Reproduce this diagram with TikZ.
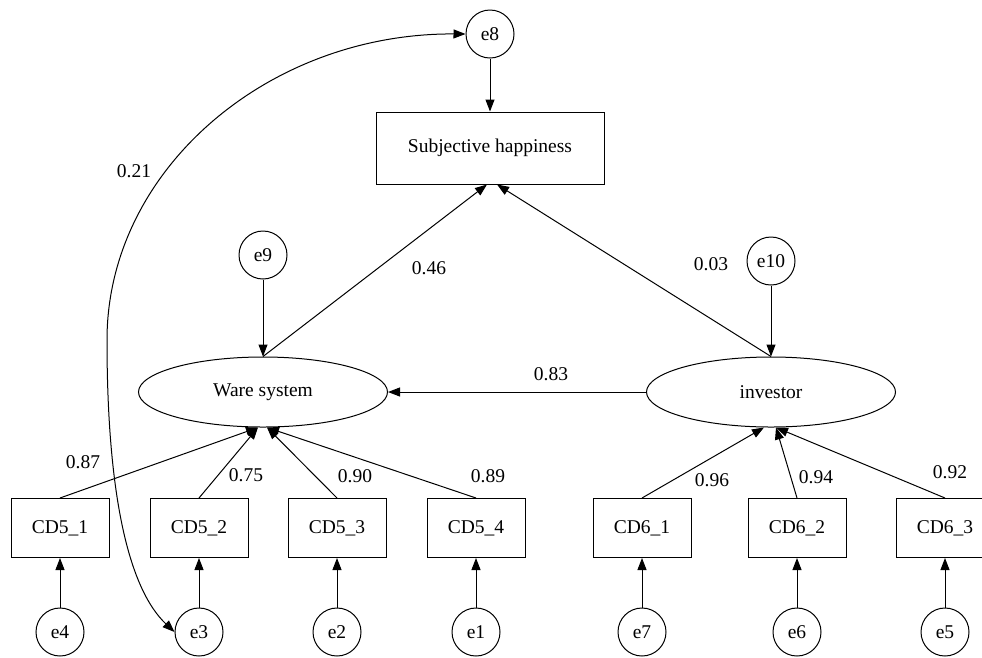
\documentclass[tikz,border=0pt]{standalone}
\usepackage{fontspec}
\setmainfont{Liberation Serif}
\newfontfamily\diagfont{Liberation Serif}
\usetikzlibrary{arrows.meta,shapes.geometric,calc}
\begin{document}
\begin{tikzpicture}[x=1pt,y=-1pt,
  every node/.style={font=\diagfont\fontsize{19.5}{22}\selectfont},
  errc/.style={circle,draw,line width=1pt,minimum size=48pt,inner sep=0pt},
  obs/.style={rectangle,draw,line width=1pt,minimum width=98pt,minimum height=59pt,inner sep=0pt},
  lat/.style={ellipse,draw,line width=1pt,minimum width=249pt,minimum height=70pt,inner sep=0pt},
  arr/.style={-{Triangle[length=12pt,width=9pt]},line width=1pt},
  darr/.style={{Triangle[length=12pt,width=9pt]}-{Triangle[length=12pt,width=9pt]},line width=1pt},
  lbl/.style={inner sep=0pt}]
\useasboundingbox (0,0) rectangle (982,657);

\node[obs,minimum width=228pt,minimum height=72pt] (sh) at (490,148) {Subjective happiness};
\node[errc] (e8) at (490,34) {e8};
\node[lat] (ws) at (263,392) {Ware system};
\node[lat] (inv) at (771,392) {investor};
\node[errc] (e9) at (263,255) {e9};
\node[errc] (e10) at (771,261) {e10};

\node[obs] (c51) at (60,528) {CD5\_1};
\node[obs] (c52) at (199,528) {CD5\_2};
\node[obs] (c53) at (337,528) {CD5\_3};
\node[obs] (c54) at (476,528) {CD5\_4};
\node[obs] (c61) at (642,528) {CD6\_1};
\node[obs] (c62) at (797,528) {CD6\_2};
\node[obs] (c63) at (945,528) {CD6\_3};

\node[errc] (e4) at (60,632) {e4};
\node[errc] (e3) at (199,632) {e3};
\node[errc] (e2) at (337,632) {e2};
\node[errc] (e1) at (476,632) {e1};
\node[errc] (e7) at (642,632) {e7};
\node[errc] (e6) at (797,632) {e6};
\node[errc] (e5) at (945,632) {e5};

\draw[arr] (e8) -- (sh);
\draw[arr] (e9) -- (ws);
\draw[arr] (e10) -- (inv);
\draw[arr] (ws.north) -- ($(sh.south)+(-3,0)$);
\draw[arr] (inv.north) -- ($(sh.south)+(7,0)$);
\draw[arr] (inv.west) -- (ws.east);

\draw[arr] (c51.north) -- ($(ws.south)+(-5,0)$);
\draw[arr] (c52.north) -- ($(ws.south)+(-5,0)$);
\draw[arr] (c53.north) -- ($(ws.south)+(4,0)$);
\draw[arr] (c54.north) -- ($(ws.south)+(4,0)$);
\draw[arr] (c61.north) -- ($(inv.south)+(-7,0)$);
\draw[arr] (c62.north) -- ($(inv.south)+(5,0)$);
\draw[arr] (c63.north) -- ($(inv.south)+(5,0)$);

\draw[arr] (e4) -- (c51);
\draw[arr] (e3) -- (c52);
\draw[arr] (e2) -- (c53);
\draw[arr] (e1) -- (c54);
\draw[arr] (e7) -- (c61);
\draw[arr] (e6) -- (c62);
\draw[arr] (e5) -- (c63);

\draw[darr] (e8.west) .. controls (268,33) and (107,170) .. (107,340)
  .. controls (107,500) and (130,590) .. (e3.west);

\node[lbl] (l21) at (134,171) {0.21};
\node[lbl] (l46) at (429,268) {0.46};
\node[lbl] (l03) at (711,264) {0.03};
\node[lbl] (l83) at (551,374) {0.83};
\node[lbl] (l87) at (83,462) {0.87};
\node[lbl] (l75) at (246,475) {0.75};
\node[lbl] (l90) at (355,476) {0.90};
\node[lbl] (l89) at (488,476) {0.89};
\node[lbl] (l96) at (712,480) {0.96};
\node[lbl] (l94) at (816,477) {0.94};
\node[lbl] (l92) at (950,472) {0.92};
\end{tikzpicture}
\end{document}
